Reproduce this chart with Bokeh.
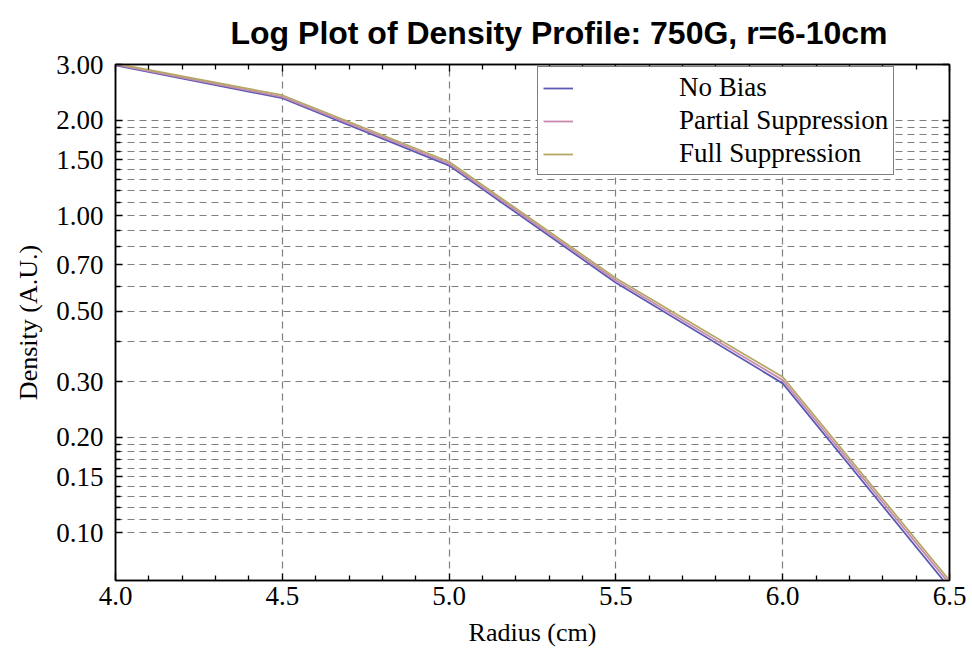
from bokeh.plotting import figure
from bokeh.models import (Range1d, FixedTicker, PrintfTickFormatter, LinearAxis,
                          LogAxis, Legend, CustomJSTickFormatter)
from bokeh.embed import file_html
from bokeh.resources import INLINE

# ---- data ----
radius = [4.0, 4.5, 5.0, 5.5, 6.0, 6.5]
no_bias = [2.98, 2.35, 1.44, 0.615, 0.296, 0.067]
partial = [3.00, 2.37, 1.46, 0.625, 0.303, 0.069]
full = [3.02, 2.40, 1.48, 0.635, 0.310, 0.0707]

y_major = [0.10, 0.15, 0.20, 0.30, 0.50, 0.70, 1.00, 1.50, 2.00, 3.00]
y_minor = [0.11, 0.12, 0.13, 0.14, 0.16, 0.17, 0.18, 0.19, 0.4, 0.6, 0.8, 0.9,
           1.1, 1.2, 1.3, 1.4, 1.6, 1.7, 1.8, 1.9]
y_grid = [0.10, 0.11, 0.12, 0.13, 0.14, 0.15, 0.16, 0.17, 0.18, 0.19, 0.20,
          0.3, 0.4, 0.5, 0.6, 0.7, 0.8, 0.9, 1.0, 1.1, 1.2, 1.3, 1.4, 1.5,
          1.6, 1.7, 1.8, 1.9, 2.0]
x_major = [4.0, 4.5, 5.0, 5.5, 6.0, 6.5]
x_minor = [4.1, 4.2, 4.3, 4.4, 4.6, 4.7, 4.8, 4.9, 5.1, 5.2, 5.3, 5.4,
           5.6, 5.7, 5.8, 5.9, 6.1, 6.2, 6.3, 6.4]
x_grid = [4.5, 5.0, 5.5, 6.0]

names = ["No Bias", "Partial Suppression", "Full Suppression"]
colors = ["#5b5bb5", "#c78aae", "#b3a866"]

SERIF = "Liberation Serif"

p = figure(width=972, height=661, output_backend="svg", toolbar_location=None,
           y_axis_type="log", x_range=Range1d(4.0, 6.5),
           y_range=Range1d(0.0707, 3.0),
           min_border_left=115, min_border_right=23, min_border_top=64,
           min_border_bottom=81,
           title="Log Plot of Density Profile: 750G, r=6-10cm")
p.title.text_font = "Liberation Sans"
p.title.text_font_style = "bold"
p.title.text_font_size = "32px"
p.title.text_color = "black"
p.title.align = "left"
p.title.vertical_align = "top"
p.title.offset = 115
p.title.standoff = 24

p.outline_line_color = "black"
p.outline_line_width = 1.5
p.background_fill_color = "white"
p.border_fill_color = "white"

# grids
p.xgrid.ticker = FixedTicker(ticks=x_grid)
p.ygrid.ticker = FixedTicker(ticks=y_grid)
for g in (p.xgrid, p.ygrid):
    g.grid_line_color = "#7f7f7f"
    g.grid_line_dash = "7 5"
    g.grid_line_width = 1.2

def style_axis(ax, show_labels):
    ax.axis_line_color = "black"
    ax.axis_line_width = 1.5
    ax.major_tick_in = 7
    ax.major_tick_out = 0
    ax.minor_tick_in = 5
    ax.minor_tick_out = 0
    ax.major_tick_line_color = "black"
    ax.minor_tick_line_color = "black"
    ax.major_tick_line_width = 1.3
    ax.minor_tick_line_width = 1.3
    if show_labels:
        ax.major_label_text_font = SERIF
        ax.major_label_text_font_size = "27px"
        ax.major_label_text_color = "black"
    else:
        ax.formatter = CustomJSTickFormatter(code="return ''")
        ax.major_label_text_font_size = "1px"
        ax.major_label_standoff = 0

# bottom axis
xa = p.xaxis[0]
xa.ticker = FixedTicker(ticks=x_major, minor_ticks=x_minor)
xa.formatter = PrintfTickFormatter(format="%.1f")
style_axis(xa, True)
xa.major_label_standoff = 6
xa.axis_label = "Radius (cm)"
xa.axis_label_text_font = SERIF
xa.axis_label_text_font_style = "normal"
xa.axis_label_text_font_size = "26px"
xa.axis_label_text_color = "black"
xa.axis_label_standoff = 10

# left axis
ya = p.yaxis[0]
ya.ticker = FixedTicker(ticks=y_major, minor_ticks=y_minor)
ya.formatter = PrintfTickFormatter(format="%.2f")
style_axis(ya, True)
ya.major_label_standoff = 12
ya.axis_label = "Density (A.U.)"
ya.axis_label_text_font = SERIF
ya.axis_label_text_font_style = "normal"
ya.axis_label_text_font_size = "26px"
ya.axis_label_text_color = "black"
ya.axis_label_standoff = 10

# top and right frame axes (ticks only)
top = LinearAxis(ticker=FixedTicker(ticks=x_major, minor_ticks=x_minor))
style_axis(top, False)
p.add_layout(top, "above")
right = LogAxis(ticker=FixedTicker(ticks=y_major, minor_ticks=y_minor))
style_axis(right, False)
p.add_layout(right, "right")

# lines
renderers = []
for ys, c in zip([no_bias, partial, full], colors):
    r = p.line(radius, ys, line_color=c, line_width=1.8)
    renderers.append(r)

legend = Legend(items=[(n, [r]) for n, r in zip(names, renderers)],
                location=(422, 405))
legend.label_text_font = SERIF
legend.label_text_font_size = "27px"
legend.label_text_color = "black"
legend.glyph_width = 30
legend.glyph_height = 20
legend.label_height = 28
legend.spacing = 2
legend.padding = 5
legend.label_standoff = 106
legend.border_line_color = "black"
legend.border_line_width = 1.5
legend.background_fill_alpha = 1.0
p.add_layout(legend, "center")

open("out.html", "w").write(file_html(p, INLINE))
